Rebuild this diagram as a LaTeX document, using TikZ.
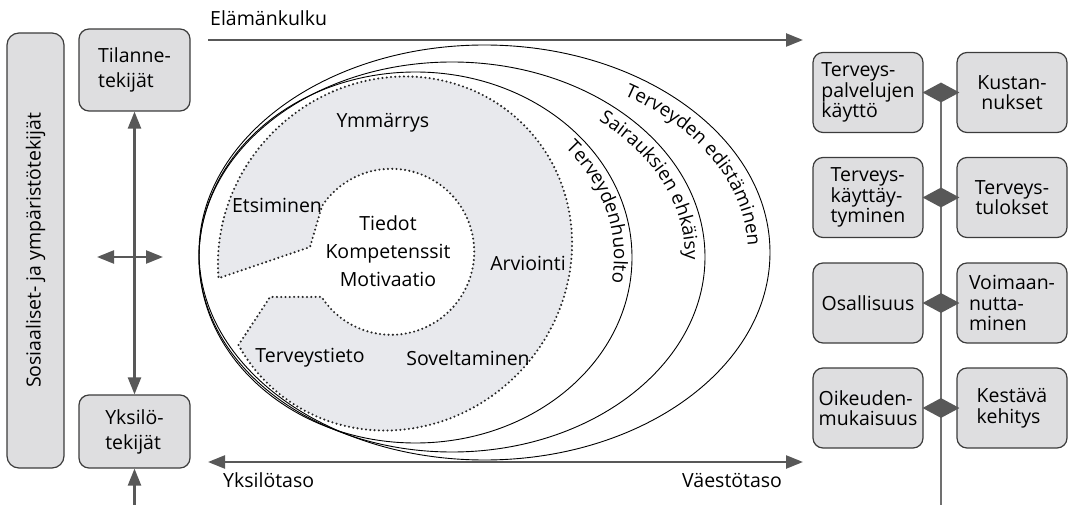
\documentclass[tikz,border=0pt]{standalone}
\usepackage{fontspec}
\setmainfont{Open Sans}
\usetikzlibrary{arrows.meta,shapes.geometric,decorations.text}
\definecolor{boxfill}{RGB}{222,222,224}
\definecolor{ringfill}{RGB}{232,233,237}
\definecolor{framegray}{RGB}{60,60,60}
\definecolor{arrowgray}{RGB}{88,88,88}
\definecolor{railgray}{RGB}{112,112,112}
\begin{document}
\begin{tikzpicture}[x=1pt,y=-1pt,
  font=\fontsize{19.5}{20.5}\selectfont,
  >={Triangle[length=17pt,width=13pt]},
  box/.style={draw=framegray, line width=1.2pt, fill=boxfill, rounded corners=10pt, inner sep=2pt},
  lbox/.style={box, minimum width=111pt, align=left, font=\fontsize{19.5}{25}\selectfont},
  rbox/.style={box, minimum width=110pt, minimum height=80pt},
  garrow/.style={draw=arrowgray, line width=2.4pt},
  rail/.style={draw=railgray, line width=2pt},
  joint/.style={diamond, fill=arrowgray, draw=none, minimum width=37pt, minimum height=20pt, inner sep=0pt},
  oval/.style={draw=black, line width=0.9pt},
  dotline/.style={draw=black!85, line width=2.3pt, line cap=round, dash pattern=on 0pt off 4.3pt},
  ringlabel/.style={inner sep=0pt},
  curvelabel/.style={decorate, decoration={text along path, text align=left,
      text={|\fontsize{18.8}{20}\selectfont|#1}}}
]
\useasboundingbox (0,0) rectangle (1071,505);

% --- left column: factors ---
\node[box, rotate=90, minimum width=435pt, minimum height=57pt, rounded corners=12pt]
  (social) at (35.5,250.5) {Sosiaaliset- ja ympäristötekijät};
\node[lbox, minimum height=82pt] (situ) at (134.5,70) {Tilanne-\\tekijät};
\node[lbox, minimum height=73pt] (indiv) at (134.5,431.5) {Yksilö-\\tekijät};

\draw[garrow,<->] (situ.south) -- (indiv.north);
\coordinate (crossL) at (97,257);
\coordinate (crossR) at (163,257);
\draw[garrow,<->] (crossL) -- (crossR);
\coordinate (feedin) at (134.5,505);
\draw[garrow,->] (feedin) -- (indiv.south);

% --- life course and level axes ---
\coordinate (lifeL) at (208,40);
\coordinate (lifeR) at (803,40);
\draw[garrow,->] (lifeL) -- (lifeR);
\node[anchor=base west, inner sep=0pt] (lifelabel) at (210,26) {Elämänkulku};

\coordinate (levelL) at (208,462);
\coordinate (levelR) at (803,462);
\draw[garrow,<->] (levelL) -- (levelR);
\node[anchor=base west, inner sep=0pt] (indlevel) at (223,487) {Yksilötaso};
\node[anchor=base west, inner sep=0pt] (poplevel) at (682,487) {Väestötaso};

% --- health literacy ring ---
\draw[fill=ringfill, dotline]
  plot[variable=\t, domain=-15.5:321.4, samples=160]
    ({395-128.7*cos(\t)+121.6*sin(\t)}, {253.5+128.7*cos(\t)+121.6*sin(\t)})
  -- (310,247) -- (322,206)
  arc[start angle=213.5, end angle=507.1, radius=83]
  -- (270,297) -- cycle;

% --- nested domains ---
\draw[oval] (484.5,252.5) ellipse [x radius=285.5, y radius=207.5];
\draw[oval] (452,257) ellipse [x radius=253, y radius=195];
\draw[oval] (415.5,257.5) ellipse [x radius=216.5, y radius=185.5];

\path[curvelabel={Terveyden edistäminen}] (624.1,95.2)
  arc[start angle=-58, end angle=22, x radius=263.5, y radius=185.5];
\path[curvelabel={Sairauksien ehkäisy}] (598.6,121)
  arc[start angle=-51, end angle=22, x radius=233, y radius=175];
\path[curvelabel={Terveydenhuolto}] (565.3,147.6)
  arc[start angle=-41, end angle=25, x radius=198.5, y radius=167.5];

% --- ring texts ---
\node[align=center, font=\fontsize{19.5}{28}\selectfont] (core) at (388,251)
  {Tiedot\\Kompetenssit\\Motivaatio};
\node[ringlabel] (understand) at (383,123) {Ymmärrys};
\node[ringlabel] (seek) at (277,205) {Etsiminen};
\node[ringlabel] (assess) at (528,263) {Arviointi};
\node[ringlabel] (info) at (310,358) {Terveystieto};
\node[ringlabel] (apply) at (468,358) {Soveltaminen};

% --- outcomes ---
\coordinate (railtop) at (941,92.5);
\coordinate (railend) at (941,505);
\draw[rail] (railtop) -- (railend);

\node[rbox, align=left] (use) at (868,92.5) {Terveys-\\palvelujen\\käyttö};
\node[rbox, align=center] (cost) at (1012,92.5) {Kustan-\\nukset};
\node[rbox, align=left] (behav) at (868,197.5) {Terveys-\\käyttäy-\\tyminen};
\node[rbox, align=center] (outcome) at (1012,197.5) {Terveys-\\tulokset};
\node[rbox] (partic) at (868,303) {Osallisuus};
\node[rbox, align=left] (empower) at (1012,303) {Voimaan-\\nutta-\\minen};
\node[rbox, align=left] (equity) at (868,408) {Oikeuden-\\mukaisuus};
\node[rbox, align=left] (sustain) at (1012,408) {Kestävä\\kehitys};

\node[joint] (j1) at (941,92.5) {};
\node[joint] (j2) at (941,197.5) {};
\node[joint] (j3) at (941,303) {};
\node[joint] (j4) at (941,408) {};
\end{tikzpicture}
\end{document}
